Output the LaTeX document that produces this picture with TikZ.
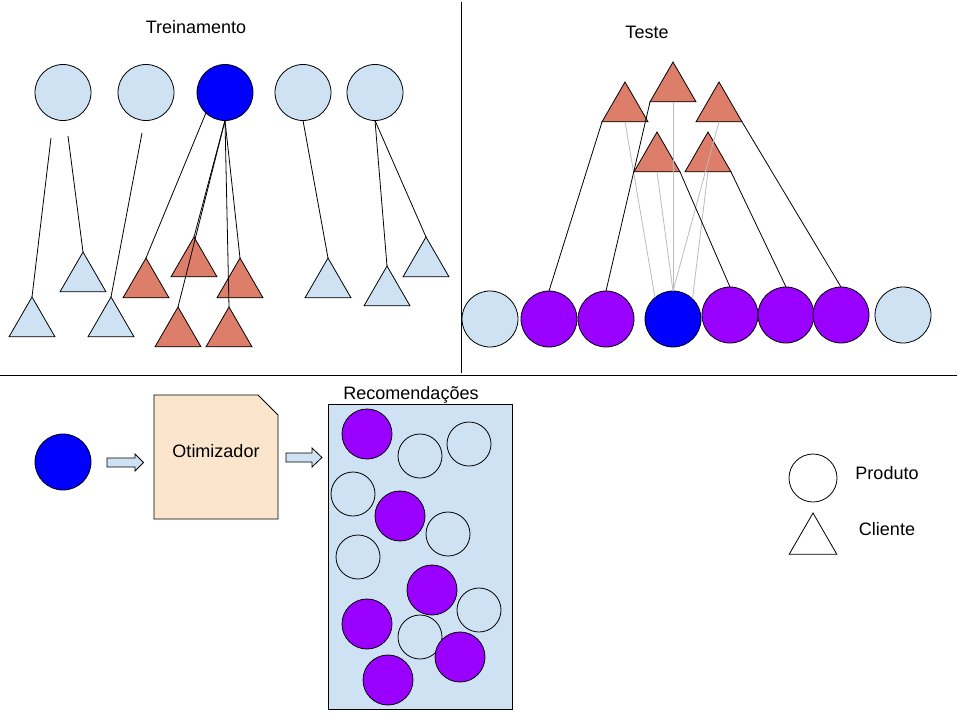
\documentclass[tikz,border=0pt]{standalone}
\usepackage{fontspec}
\setmainfont{Liberation Sans}
\usetikzlibrary{shapes.geometric}
\definecolor{lblue}{HTML}{CFE2F3}
\definecolor{dblue}{HTML}{0000FF}
\definecolor{purp}{HTML}{9900FF}
\definecolor{salm}{HTML}{DD7E6B}
\definecolor{peach}{HTML}{FCE5CD}
\definecolor{lgray}{HTML}{BBBBBB}
\tikzset{
  base/.style={draw=black, line width=0.8pt, inner sep=0pt, outer sep=0pt},
  prod/.style={base, circle, minimum size=56pt},
  prodsm/.style={base, circle, minimum size=50pt},
  prodxs/.style={base, circle, minimum size=44pt},
  cli/.style={base, regular polygon, regular polygon sides=3, minimum size=53pt},
  lb/.style={fill=lblue},
  bl/.style={fill=dblue},
  pu/.style={fill=purp},
  rd/.style={fill=salm},
  link/.style={draw=black, line width=0.8pt},
  glink/.style={draw=lgray, line width=0.8pt},
  lbl/.style={font=\fontsize{18}{20}\selectfont, anchor=base, inner sep=0pt},
  blockarrow/.style={draw=black, line width=0.8pt, fill=lblue},
}
\begin{document}
\begin{tikzpicture}[x=1pt, y=-1pt]
\useasboundingbox (0,0) rectangle (960,720);
% dividers
\coordinate (vt) at (461,2);
\coordinate (vb) at (461,373);
\coordinate (hl) at (0,375);
\coordinate (hr) at (957,375);
\draw[line width=1pt] (vt) -- (vb);
\draw[line width=1pt] (hl) -- (hr);

% titles
\node[lbl] (ttrain) at (196,33) {Treinamento};
\node[lbl] (ttest) at (647,38) {Teste};

% ---------- Treinamento ----------
\node[prod, lb] (C1) at (63,92.5) {};
\node[prod, lb] (C2) at (146,92.5) {};
\node[prod, bl] (C3) at (225,92.5) {};
\node[prod, lb] (C4) at (303,92.5) {};
\node[prod, lb] (C5) at (375,92.5) {};

\node[cli, lb] (T1) at (32,323.5) {};
\node[cli, lb] (T2) at (83,278.5) {};
\node[cli, lb] (T3) at (111,323.5) {};
\node[cli, rd] (R1) at (146,284.5) {};
\node[cli, rd] (R2) at (194,263.5) {};
\node[cli, rd] (R3) at (240,284.5) {};
\node[cli, rd] (R4) at (178,333.5) {};
\node[cli, rd] (R5) at (229,333.5) {};
\node[cli, lb] (T4) at (328,284.5) {};
\node[cli, lb] (T5) at (387,292.5) {};
\node[cli, lb] (T6) at (426,263.5) {};

\coordinate (f1) at (51,138);
\coordinate (f2) at (68,136);
\coordinate (f3) at (142,133);
\draw[link] (f1) -- (T1.corner 1);
\draw[link] (f2) -- (T2.corner 1);
\draw[link] (f3) -- (T3.corner 1);
\draw[link] (C3.227) -- (R1.corner 1);
\draw[link] (C3.south) -- (R2.corner 1);
\draw[link] (C3.south) -- (R4.corner 1);
\draw[link] (C3.south) -- (R5.corner 1);
\draw[link] (C3.south) -- (R3.corner 1);
\draw[link] (C4.south) -- (T4.corner 1);
\draw[link] (C5.south) -- (T5.corner 1);
\draw[link] (C5.south) -- (T6.corner 1);

% ---------- Teste ----------
\node[prod, lb] (B1) at (490,319) {};
\node[prod, pu] (B2) at (549,319) {};
\node[prod, pu] (B3) at (606,319) {};
\node[prod, bl] (B4) at (673,319) {};
\node[prod, pu] (B5) at (730,315) {};
\node[prod, pu] (B6) at (786,315) {};
\node[prod, pu] (B7) at (841,315) {};
\node[prod, lb] (B8) at (903,315) {};

\node[cli, rd] (U1) at (673,88.5) {};
\node[cli, rd] (U2) at (625,108.5) {};
\node[cli, rd] (U3) at (719,108.5) {};
\node[cli, rd] (U4) at (657,158.5) {};
\node[cli, rd] (U5) at (708,158.5) {};

\draw[glink] (U2.side 2) -- (B4.130);
\draw[glink] (U4.side 2) -- (B4.north);
\draw[glink] (U1.side 2) -- (B4.north);
\draw[glink] (U3.side 2) -- (B4.north);
\draw[glink] (U5.side 2) -- (B4.46);

\draw[link] (U2.corner 2) -- (B2.north);
\draw[link] (U1.corner 2) -- (B3.north);
\draw[link] (U4.corner 3) -- (B5.north);
\draw[link] (U5.corner 3) -- (B6.north);
\draw[link] (U3.corner 3) -- (B7.north);

% ---------- Bottom ----------
\node[prod, bl] (Q) at (63,462) {};

\coordinate (a1) at (107,462.5);
\draw[blockarrow] (a1) ++(0,-4.5) -- ++(28,0) -- ++(0,-4) -- ++(8.5,8.5) -- ++(-8.5,8.5) -- ++(0,-4) -- ++(-28,0) -- cycle;

\coordinate (d) at (154,395);
\draw[base, fill=peach] (d) -- ++(104,0) -- ++(20,20) -- ++(0,104) -- ++(-124,0) -- cycle;
\node[lbl] (otim) at (216,457) {Otimizador};

\coordinate (a2) at (286,457.5);
\draw[blockarrow] (a2) ++(0,-4.5) -- ++(26,0) -- ++(0,-5) -- ++(10,9.5) -- ++(-10,9.5) -- ++(0,-5) -- ++(-26,0) -- cycle;

\node[base, fill=lblue, minimum width=184pt, minimum height=305pt] (rec) at (420,556.5) {};
\node[lbl] (rect) at (411,399.5) {Recomendações};

\node[prodsm, pu] (P1) at (367,434) {};
\node[prodxs, lb] (L1) at (420,456) {};
\node[prodxs, lb] (L2) at (469,444) {};
\node[prodxs, lb] (L3) at (353,494) {};
\node[prodsm, pu] (P2) at (400,516) {};
\node[prodxs, lb] (L4) at (448,534) {};
\node[prodxs, lb] (L5) at (358,557) {};
\node[prodsm, pu] (P3) at (432,590) {};
\node[prodxs, lb] (L6) at (479,610) {};
\node[prodsm, pu] (P4) at (367,624) {};
\node[prodxs, lb] (L7) at (420,637) {};
\node[prodsm, pu] (P5) at (460,657) {};
\node[prodsm, pu] (P6) at (388,680) {};

% legend
\node[base, circle, minimum size=48pt, fill=white] (lp) at (813,478) {};
\node[base, regular polygon, regular polygon sides=3, minimum size=55pt, fill=white] (lc) at (813,540.5) {};
\node[lbl] (tp) at (887,479) {Produto};
\node[lbl] (tc) at (887,535.5) {Cliente};
\end{tikzpicture}
\end{document}
